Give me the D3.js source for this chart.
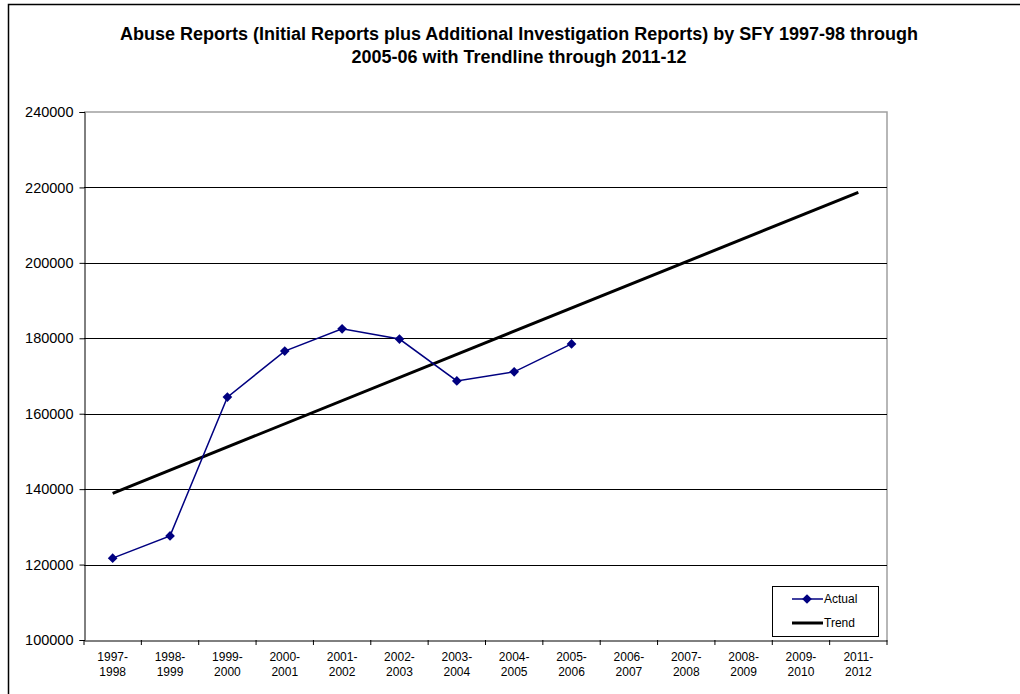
<!DOCTYPE html>
<html><head><meta charset="utf-8">
<script src="https://cdn.jsdelivr.net/npm/d3@7"></script>
<style>body{margin:0;background:#fff}svg{display:block}text{font-family:"Liberation Sans",Arial,sans-serif}</style>
</head><body>
<svg id="c" width="1020" height="694"></svg>
<script>
const categories = ["1997-1998","1998-1999","1999-2000","2000-2001","2001-2002","2002-2003","2003-2004","2004-2005","2005-2006","2006-2007","2007-2008","2008-2009","2009-2010","2011-2012"];
const actualCats = ["1997-1998","1998-1999","1999-2000","2000-2001","2001-2002","2002-2003","2003-2004","2004-2005","2005-2006"];
const actualValues = [121700,127600,164400,176600,182500,179800,168700,171100,178500];
const trendCats = ["1997-1998","2011-2012"];
const trendValues = [138900,218700];
const yTicks = [100000,120000,140000,160000,180000,200000,220000,240000];
const titleLines = ["Abuse Reports (Initial Reports plus Additional Investigation Reports) by SFY 1997-98 through","2005-06 with Trendline through 2011-12"];

const svg = d3.select("#c");
// outer frame
svg.append("rect").attr("x",8.5).attr("y",4.5).attr("width",1030).attr("height",700)
  .attr("fill","none").attr("stroke","#000").attr("stroke-width",1.5);

const L=84, R=887, T=112, B=640;
const x = d3.scaleBand().domain(categories).range([L,R]);
const y = d3.scaleLinear().domain([100000,240000]).range([B,T]);
const cx = c => x(c)+x.bandwidth()/2;

// title
svg.append("g").selectAll("text").data(titleLines).join("text")
  .attr("x",519).attr("y",(d,i)=>40+i*23).attr("text-anchor","middle")
  .attr("font-size",18).attr("font-weight","bold").text(d=>d);

// plot border (gray top/right)
svg.append("path").attr("d",`M${L},${T}H${R}V${B}`).attr("fill","none").attr("stroke","#a0a0a0").attr("stroke-width",1.5);

// gridlines
svg.append("g").selectAll("line").data(yTicks.filter(v=>v>100000 && v<240000)).join("line")
  .attr("x1",L).attr("x2",R).attr("y1",d=>Math.round(y(d))+0.5).attr("y2",d=>Math.round(y(d))+0.5)
  .attr("stroke","#000").attr("stroke-width",1);

// y axis
const ya = svg.append("g").attr("transform",`translate(${L+0.5},0)`)
  .call(d3.axisLeft(y).tickValues(yTicks).tickSize(5).tickPadding(6).tickFormat(d3.format("d")));
ya.select(".domain").attr("stroke","#000");
ya.selectAll("text").attr("font-size",14.5).attr("fill","#000").attr("font-family","Liberation Sans, Arial, sans-serif");

// x axis
const xa = svg.append("g").attr("transform",`translate(0,${B+0.5})`)
  .call(d3.axisBottom(x).tickSize(0).tickFormat(""));
xa.select(".domain").attr("stroke","#000");
svg.append("g").selectAll("line").data(d3.range(categories.length+1)).join("line")
  .attr("x1",i=>L+i*x.step()).attr("x2",i=>L+i*x.step()).attr("y1",B).attr("y2",B+5).attr("stroke","#000");
const xl = svg.append("g").selectAll("text").data(categories).join("text")
  .attr("x",d=>cx(d)).attr("y",B+21).attr("text-anchor","middle").attr("font-size",12);
xl.append("tspan").attr("x",d=>cx(d)).text(d=>d.split("-")[0]+"-");
xl.append("tspan").attr("x",d=>cx(d)).attr("dy",15).text(d=>d.split("-")[1]);

// trend line
svg.append("path").datum(trendCats.map((c,i)=>[cx(c),y(trendValues[i])]))
  .attr("d",d3.line()).attr("stroke","#000").attr("stroke-width",3).attr("fill","none");

// actual line
const pts = actualCats.map((c,i)=>[cx(c),y(actualValues[i])]);
svg.append("path").datum(pts).attr("d",d3.line()).attr("stroke","#000080").attr("stroke-width",1.5).attr("fill","none");
const diamond = d3.symbol().type(d3.symbolDiamond2).size(60);
svg.append("g").selectAll("path").data(pts).join("path")
  .attr("transform",d=>`translate(${d[0]},${d[1]})`).attr("d",diamond).attr("fill","#000080");

// legend
const lg = svg.append("g");
lg.append("rect").attr("x",772.5).attr("y",586.5).attr("width",106).attr("height",50).attr("fill","#fff").attr("stroke","#000");
lg.append("line").attr("x1",792).attr("x2",823).attr("y1",599).attr("y2",599).attr("stroke","#000080").attr("stroke-width",1.5);
lg.append("path").attr("transform","translate(807,599)").attr("d",diamond).attr("fill","#000080");
lg.append("text").attr("x",824).attr("y",603).attr("font-size",12).text("Actual");
lg.append("line").attr("x1",792).attr("x2",823).attr("y1",623).attr("y2",623).attr("stroke","#000").attr("stroke-width",3);
lg.append("text").attr("x",824).attr("y",627).attr("font-size",12).text("Trend");
</script>
</body></html>
